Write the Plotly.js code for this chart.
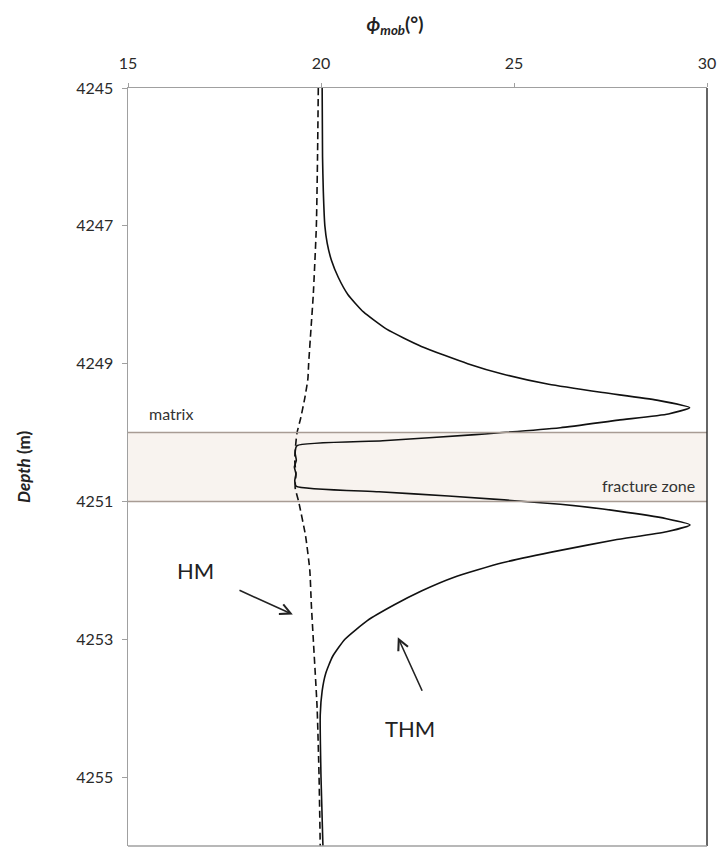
<!DOCTYPE html>
<html>
<head>
<meta charset="utf-8">
<script src="https://cdn.plot.ly/plotly-3.0.1.min.js"></script>
<style>html,body{margin:0;padding:0;background:#fff;}#chart{width:720px;height:847px;}</style>
</head>
<body>
<div id="chart"></div>
<script>
// THM curve (solid): depth (m) and mobilised friction angle (deg)
var thmDepth = [4245, 4246, 4246.5, 4247, 4247.25, 4247.5, 4247.75, 4248, 4248.25, 4248.5, 4248.75, 4249, 4249.15, 4249.3, 4249.42, 4249.53, 4249.64, 4249.73, 4249.82, 4249.93, 4250.03, 4250.12, 4250.19, 4250.3, 4250.4, 4250.5, 4250.6, 4250.7, 4250.78, 4250.86, 4250.92, 4251.04, 4251.14, 4251.25, 4251.34, 4251.44, 4251.56, 4251.71, 4251.89, 4252.1, 4252.3, 4252.5, 4252.73, 4253.0, 4253.25, 4253.5, 4253.75, 4254.1, 4255, 4256];
var thmPhi   = [20.03, 20.04, 20.06, 20.1, 20.16, 20.27, 20.45, 20.7, 21.1, 21.7, 22.6, 23.8, 24.7, 25.9, 27.3, 28.7, 29.55, 29.0, 27.7, 26.2, 24.0, 21.6, 19.38, 19.33, 19.36, 19.31, 19.35, 19.32, 19.36, 21.5, 23.3, 26.2, 27.7, 28.95, 29.56, 28.95, 27.6, 26.2, 24.7, 23.45, 22.6, 21.9, 21.2, 20.62, 20.3, 20.12, 20.03, 19.98, 20.0, 20.05];
// HM curve (dashed)
var hmDepth = [4245, 4246, 4247, 4248, 4248.5, 4249, 4249.22, 4249.5, 4249.8, 4250, 4250.2, 4250.4, 4250.6, 4250.8, 4251, 4251.5, 4252, 4252.5, 4253, 4254, 4255, 4256];
var hmPhi   = [19.93, 19.91, 19.88, 19.8, 19.74, 19.68, 19.66, 19.58, 19.47, 19.38, 19.34, 19.32, 19.35, 19.33, 19.42, 19.6, 19.71, 19.75, 19.8, 19.9, 19.95, 19.98];
// Fracture zone limits
var zoneDepths = [4250, 4251];
// Axis ticks
var xTicks = [15, 20, 25, 30];
var yTicks = [4245, 4247, 4249, 4251, 4253, 4255];
var xRange = [15, 30];
var yRange = [4256, 4245];

var FONT = 'Lato, "Open Sans", sans-serif';

var traces = [
  {x: hmPhi, y: hmDepth, mode: 'lines', line: {color: '#111', width: 1.6, dash: '7px,4px', shape: 'spline', smoothing: 0.5}, hoverinfo: 'skip'},
  {x: thmPhi, y: thmDepth, mode: 'lines', line: {color: '#111', width: 1.6, shape: 'spline', smoothing: 0.5}, hoverinfo: 'skip'}
];

var layout = {
  width: 720, height: 847,
  margin: {l: 128, r: 13, t: 88, b: 1},
  paper_bgcolor: '#fff', plot_bgcolor: '#fff',
  showlegend: false,
  font: {family: FONT, size: 15, color: '#333'},
  title: {
    text: '<b><i>ϕ</i></b><sub><b><i>mob</i></b></sub><b>(°)</b>',
    font: {family: FONT, size: 19, color: '#222'},
    x: 395 / 720, xref: 'container', xanchor: 'center',
    y: 1 - 24 / 847, yref: 'container', yanchor: 'middle'
  },
  xaxis: {
    side: 'top', range: xRange, tickvals: xTicks, ticktext: xTicks.map(String),
    showgrid: false, zeroline: false, showline: true, linecolor: '#a0a0a0', linewidth: 1.5,
    ticks: 'outside', ticklen: 4, tickcolor: '#a0a0a0', ticklabelstandoff: 7,
    tickfont: {family: FONT, size: 16, color: '#2a2a2a'}
  },
  yaxis: {
    range: yRange, tickvals: yTicks, ticktext: yTicks.map(String),
    showgrid: false, zeroline: false, showline: true, linecolor: '#a0a0a0', linewidth: 1.5,
    ticks: 'outside', ticklen: 5, tickcolor: '#a0a0a0', ticklabelstandoff: 5,
    tickfont: {family: FONT, size: 16, color: '#2a2a2a'}
  },
  shapes: [
    {type: 'rect', xref: 'paper', yref: 'y', x0: 0, x1: 1, y0: zoneDepths[0], y1: zoneDepths[1], fillcolor: '#f8f3ef', line: {width: 0}, layer: 'below'},
    {type: 'line', xref: 'paper', yref: 'y', x0: 0, x1: 1, y0: zoneDepths[0], y1: zoneDepths[0], line: {color: '#a89c94', width: 1.5}},
    {type: 'line', xref: 'paper', yref: 'y', x0: 0, x1: 1, y0: zoneDepths[1], y1: zoneDepths[1], line: {color: '#a89c94', width: 1.5}},
    {type: 'line', xref: 'paper', yref: 'paper', x0: 1, x1: 1, y0: 0, y1: 1, line: {color: '#333', width: 1.5}},
    {type: 'line', xref: 'paper', yref: 'paper', x0: 0, x1: 1, y0: 0, y1: 0, line: {color: '#a0a0a0', width: 1.5}}
  ],
  annotations: [
    {x: -105 / 579, y: 0.5, xref: 'paper', yref: 'paper', text: '<b><i>Depth</i> (m)</b>', textangle: -90, showarrow: false, xanchor: 'center', yanchor: 'middle', font: {family: FONT, size: 17, color: '#222'}},
    {x: 15.5, y: 4249.72, xref: 'x', yref: 'y', text: 'matrix', showarrow: false, xanchor: 'left', yanchor: 'middle', font: {size: 16, color: '#333'}},
    {x: 29.75, y: 4250.77, xref: 'x', yref: 'y', text: 'fracture zone', showarrow: false, xanchor: 'right', yanchor: 'middle', font: {size: 16, color: '#333'}},
    {x: 19.27, y: 4252.64, xref: 'x', yref: 'y', text: 'HM', showarrow: true, arrowhead: 5, arrowsize: 1.3, arrowwidth: 1.6, arrowcolor: '#222', ax: -97, ay: -44, startstandoff: 26, font: {size: 22, color: '#222'}},
    {x: 22.3, y: 4254.3, xref: 'x', yref: 'y', text: 'THM', showarrow: false, font: {size: 22, color: '#222'}},
    {x: 21.99, y: 4252.97, xref: 'x', yref: 'y', text: '', showarrow: true, arrowhead: 5, arrowsize: 1.3, arrowwidth: 1.6, arrowcolor: '#222', ax: 25, ay: 55}
  ]
};

Plotly.newPlot('chart', traces, layout, {staticPlot: true, displayModeBar: false});
</script>
</body>
</html>
